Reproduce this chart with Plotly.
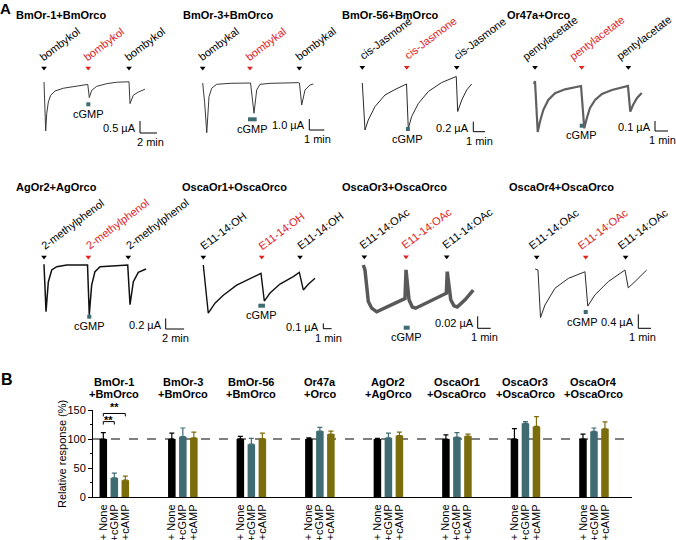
import plotly.graph_objects as go

W, H = 676, 540
RED = "#e0211d"
TEAL = "#3e6c72"
OLIVE = "#7b6c0c"
FONT = "Liberation Sans, Arial, Helvetica, sans-serif"

# ---------------- Panel A data (time in min, current in µA) ----------------
A_titles = ["BmOr-1+BmOrco", "BmOr-3+BmOrco", "BmOr-56+BmOrco", "Or47a+Orco",
            "AgOr2+AgOrco", "OscaOr1+OscaOrco", "OscaOr3+OscaOrco", "OscaOr4+OscaOrco"]
A_odors = ["bombykol", "bombykal", "cis-Jasmone", "pentylacetate",
           "2-methylphenol", "E11-14:OH", "E11-14:OAc", "E11-14:OAc"]
A_scale_uA = [0.5, 1.0, 0.2, 0.1, 0.2, 0.1, 0.02, 0.4]
A_scale_min = [2, 1, 1, 1, 2, 1, 1, 1]
A_stim_min = [[0, 5.2, 10.0], [0, 3.15, 6.44], [0, 3.8, 8.07], [0, 3.59, 7.18],
              [0, 4.82, 9.16], [0, 7.04, 11.65], [0, 3.21, 6.34], [0, 3.86, 7.0]]
A_cgmp_min = [[4.98, 5.45], [3.02, 3.6], [3.73, 4.07], [3.44, 3.75],
              [4.7, 5.14], [6.63, 7.43], [3.03, 3.49], [3.7, 4.02]]

t_bmor1 = [0, 0.2, 0.32, 0.51, 0.79, 1.29, 2.27, 3.85, 5.15, 5.33, 5.61, 6.2, 7.38, 8.55, 9.92, 10.0, 10.12, 10.51, 11.09, 11.88]
i_bmor1 = [0, -2.04, -1.32, -0.83, -0.55, -0.375, -0.26, -0.17, -0.10, -0.65, -0.35, -0.18, -0.07, -0.01, 0.03, 0.01, -0.9, -0.55, -0.42, -0.30]

t_bmor3 = [0, 0.13, 0.27, 0.42, 0.6, 0.93, 1.82, 3.04, 3.19, 3.42, 3.6, 3.82, 4.49, 6.37, 6.45, 6.6, 6.82, 7.15, 7.37]
i_bmor3 = [0, -1.8, -4.52, -1.25, -0.48, -0.12, -0.03, 0.03, 0, -2.75, -0.64, -0.12, -0.03, 0.03, 0, -2.0, -0.64, -0.18, -0.09]

t_bmor56 = [0, 0.23, 0.51, 1.09, 1.94, 2.79, 3.78, 3.93, 4.22, 4.79, 5.64, 6.79, 8.03, 8.15, 8.5, 8.92, 9.35]
i_bmor56 = [0, -0.94, -0.74, -0.47, -0.24, -0.13, -0.02, -0.91, -0.67, -0.41, -0.17, 0.01, 0.13, -0.57, -0.34, -0.14, -0.02]

t_or47a = [-0.08, 0, 0.21, 0.38, 0.64, 1.02, 1.54, 2.31, 3.54, 3.79, 3.99, 4.23, 4.62, 5.15, 5.92, 7.15, 7.33, 7.54, 7.85, 8.21]
i_or47a = [0, 0.03, -0.48, -0.377, -0.26, -0.16, -0.093, -0.053, -0.02, -0.443, -0.34, -0.24, -0.16, -0.10, -0.06, -0.02, -0.277, -0.21, -0.14, -0.09]

t_agor2 = [0, 0.22, 0.47, 0.84, 1.38, 2.47, 4.73, 4.92, 5.18, 5.54, 6.09, 9.1, 9.35, 9.71, 10.25, 11.09]
i_agor2 = [0.013, -0.88, -0.32, -0.094, -0.032, 0, 0, -0.94, -0.38, -0.126, -0.032, 0, -0.75, -0.315, -0.138, -0.075]

t_oscaor1 = [0, 0.6, 1.41, 2.41, 4.02, 5.63, 6.95, 7.35, 8.04, 9.24, 10.84, 11.57, 12.05, 12.65, 13.46]
i_oscaor1 = [0, -0.91, -0.72, -0.57, -0.38, -0.25, -0.157, -0.68, -0.53, -0.36, -0.22, -0.138, -0.47, -0.365, -0.25]

t_oscaor3 = [-0.08, 0.05, 0.31, 0.57, 0.95, 1.85, 2.62, 3.13, 3.21, 3.44, 3.69, 3.95, 4.92, 5.95, 6.31, 6.38, 6.65, 6.9, 7.15, 7.75, 8.38]
i_oscaor3 = [0, -0.008, -0.061, -0.072, -0.078, -0.068, -0.061, -0.056, -0.008, -0.058, -0.07, -0.072, -0.062, -0.051, -0.047, -0.011, -0.058, -0.068, -0.07, -0.058, -0.042]

t_oscaor4 = [-0.13, 0.1, 0.3, 0.65, 1.44, 2.49, 3.8, 4.02, 4.59, 5.64, 6.95, 7.21, 7.74, 8.66]
i_oscaor4 = [0.03, 0, -1.36, -1.0, -0.52, -0.24, -0.05, -1.03, -0.71, -0.33, 0, -0.51, -0.33, 0]

A_traces = [(t_bmor1, i_bmor1), (t_bmor3, i_bmor3), (t_bmor56, i_bmor56), (t_or47a, i_or47a),
            (t_agor2, i_agor2), (t_oscaor1, i_oscaor1), (t_oscaor3, i_oscaor3), (t_oscaor4, i_oscaor4)]

# ---------------- Panel B data ----------------
B_groups_l1 = ["BmOr-1", "BmOr-3", "BmOr-56", "Or47a", "AgOr2", "OscaOr1", "OscaOr3", "OscaOr4"]
B_groups_l2 = ["+BmOrco", "+BmOrco", "+BmOrco", "+Orco", "+AgOrco", "+OscaOrco", "+OscaOrco", "+OscaOrco"]
B_conditions = ["+ None", "+cGMP", "+cAMP"]
none_mean = [100, 100, 100, 100, 100, 100, 100, 100]
none_err = [11, 10, 4.5, 2, 1, 7, 18, 8.5]
cgmp_mean = [33, 104, 91, 113.6, 102, 103.4, 127, 113]
cgmp_err = [8, 15, 10, 6.4, 8, 7.6, 3, 6]
camp_mean = [29, 102, 100.5, 108.5, 106, 105, 121.6, 117.6]
camp_err = [7, 10, 9.5, 5, 6, 3.5, 17, 12]
B_yticks = [0, 50, 100, 150]

# ---------------- Panel A layout (pixel constants) ----------------
PL = [
    dict(x0=44, y0=82, sx=8.5, sy=24, arrow=68, cg=104.3, bar=(140, 133), title=(14, 15), box=(28, 50, 172, 150), col="#3a3a3a", w=1.0, cgx=0, fx=1.5, lx=-8),
    dict(x0=202.7, y0=83, sx=15, sy=11, arrow=68, cg=119.3, bar=(309.3, 130), title=(181, 15), box=(188, 50, 336, 150), col="#3a3a3a", w=1.0, cgx=0, fx=1, lx=-8),
    dict(x0=362.3, y0=83, sx=11.7, sy=50, arrow=67.3, cg=129, bar=(473.3, 131.7), title=(340, 15), box=(348, 50, 500, 150), col="#2a2a2a", w=1.0, cgx=0, fx=0, lx=-6),
    dict(x0=535, y0=84, sx=13, sy=100, arrow=67.3, cg=125.7, bar=(655, 131), title=(505, 15), box=(518, 50, 676, 150), col="#606060", w=2.2, cgx=0, fx=1, lx=-16),
    dict(x0=44, y0=265, sx=9.2, sy=53, arrow=257, cg=316.7, bar=(165.7, 329), title=(14, 186.7), box=(28, 240, 192, 342), col="#111111", w=1.5, cgx=0, fx=1, lx=-6),
    dict(x0=203.3, y0=265, sx=8.3, sy=53, arrow=257, cg=305.7, bar=(323.3, 328.7), title=(180, 186.7), box=(188, 240, 342, 342), col="#111111", w=1.4, cgx=0, fx=1, lx=-7),
    dict(x0=364.3, y0=265, sx=13, sy=600, arrow=256.7, cg=327.7, bar=(477.7, 328.3), title=(340, 186.7), box=(348, 240, 500, 342), col="#595959", w=3.5, cgx=0, fx=0, lx=-8),
    dict(x0=536.7, y0=270, sx=12.7, sy=35, arrow=257, cg=312, bar=(638.3, 328.3), title=(506.7, 186.7), box=(518, 240, 676, 342), col="#2a2a2a", w=1.0, cgx=-3, fx=-2, lx=-12),
]
LABEL_ANGLE = -37


def axid(n):
    return "" if n == 1 else str(n)


fig = go.Figure()
annotations = []
layout_axes = {}

for k in range(8):
    p = PL[k]
    n = k + 1
    xa, ya = "x" + axid(n), "y" + axid(n)
    L, T, R, B = p["box"]
    layout_axes["xaxis" + axid(n)] = dict(domain=[L / W, R / W], range=[(L - p["x0"]) / p["sx"], (R - p["x0"]) / p["sx"]],
                                          visible=False, anchor=ya, autorange=False)
    layout_axes["yaxis" + axid(n)] = dict(domain=[1 - B / H, 1 - T / H], range=[-(B - p["y0"]) / p["sy"], -(T - p["y0"]) / p["sy"]],
                                          visible=False, anchor=xa, autorange=False)

    t_of = lambda px, p=p: (px - p["x0"]) / p["sx"]
    i_of = lambda py, p=p: -(py - p["y0"]) / p["sy"]

    t, i = A_traces[k]
    fig.add_trace(go.Scatter(x=t, y=i, mode="lines", line=dict(color=p["col"], width=p["w"]),
                             xaxis=xa, yaxis=ya, cliponaxis=False, hoverinfo="skip"))

    # stimulus arrows
    ia = i_of(p["arrow"])
    stims = A_stim_min[k]
    cols = ["black", RED, "black"]
    fig.add_trace(go.Scatter(x=stims, y=[ia] * 3, mode="markers",
                             marker=dict(symbol="triangle-down", size=5, color=cols, line=dict(width=0)),
                             xaxis=xa, yaxis=ya, cliponaxis=False, hoverinfo="skip"))
    for s, c in zip(stims, cols):
        annotations.append(dict(x=s, y=ia, xref=xa, yref=ya, text=A_odors[k], showarrow=False,
                                textangle=LABEL_ANGLE, xanchor="left", yanchor="bottom", xshift=p["lx"], yshift=4,
                                borderpad=0, font=dict(size=11, color=c, family=FONT)))

    # cGMP application bar
    icg = i_of(p["cg"])
    fig.add_trace(go.Scatter(x=A_cgmp_min[k], y=[icg, icg], mode="lines", line=dict(color=TEAL, width=4),
                             xaxis=xa, yaxis=ya, cliponaxis=False, hoverinfo="skip"))
    annotations.append(dict(x=sum(A_cgmp_min[k]) / 2, y=icg, xref=xa, yref=ya, text="cGMP", showarrow=False,
                            xanchor="center", yanchor="middle", yshift=-9.5, xshift=p["cgx"],
                            font=dict(size=11, color="black", family=FONT)))

    # scale bar
    tb, ib = t_of(p["bar"][0]), i_of(p["bar"][1])
    su, sm = A_scale_uA[k], A_scale_min[k]
    fig.add_trace(go.Scatter(x=[tb, tb, tb + sm], y=[ib + su, ib, ib], mode="lines",
                             line=dict(color="black", width=1), xaxis=xa, yaxis=ya, cliponaxis=False,
                             hoverinfo="skip"))
    annotations.append(dict(x=tb, y=ib + su / 2, xref=xa, yref=ya, text=f"{su} µA", showarrow=False,
                            xanchor="right", yanchor="middle", xshift=-2, yshift=-1,
                            font=dict(size=11, color="black", family=FONT)))
    annotations.append(dict(x=tb + sm / 2, y=ib, xref=xa, yref=ya, text=f"{sm} min", showarrow=False,
                            xanchor="center", yanchor="top", yshift=-1, xshift=p["fx"],
                            font=dict(size=11, color="black", family=FONT)))

    # panel title
    annotations.append(dict(x=p["title"][0] / W, y=1 - p["title"][1] / H, xref="paper", yref="paper",
                            text=f"<b>{A_titles[k]}</b>", showarrow=False, xanchor="left", yanchor="middle",
                            font=dict(size=11, color="black", family=FONT)))

# ---------------- Panel B ----------------
OFF, BW = 0.1606, 0.11
offsets = [-OFF, 0.0, OFF]
series = [(none_mean, none_err, "black"), (cgmp_mean, cgmp_err, TEAL), (camp_mean, camp_err, OLIVE)]
for j, (m, e, c) in enumerate(series):
    xs = [g + offsets[j] for g in range(len(m))]
    fig.add_trace(go.Bar(x=xs, y=m, width=BW, marker=dict(color=c, line=dict(width=0)),
                         error_y=dict(type="data", array=e, arrayminus=[0] * len(e), symmetric=False,
                                      color=c, thickness=1.2, width=2.5),
                         xaxis="x9", yaxis="y9", hoverinfo="skip"))

tickvals, ticktext = [], []
for g in range(len(B_groups_l1)):
    for j in range(3):
        tickvals.append(g + offsets[j])
        ticktext.append(B_conditions[j])

g0 = 0
fig.add_trace(go.Scatter(x=[g0 + offsets[0], g0 + offsets[0], g0 + offsets[1], g0 + offsets[1]], y=[125, 130, 130, 125],
                         mode="lines", line=dict(color="black", width=1), xaxis="x9", yaxis="y9",
                         cliponaxis=False, hoverinfo="skip"))
fig.add_trace(go.Scatter(x=[g0 + offsets[0], g0 + offsets[0], g0 + offsets[2], g0 + offsets[2]], y=[139, 144, 144, 139],
                         mode="lines", line=dict(color="black", width=1), xaxis="x9", yaxis="y9",
                         cliponaxis=False, hoverinfo="skip"))
annotations.append(dict(x=g0 + (offsets[0] + offsets[1]) / 2, y=130, xref="x9", yref="y9", text="<b>**</b>",
                        showarrow=False, yanchor="middle", yshift=2, font=dict(size=11, family=FONT)))
annotations.append(dict(x=g0 + (offsets[0] + offsets[2]) / 2, y=144, xref="x9", yref="y9", text="<b>**</b>",
                        showarrow=False, yanchor="middle", yshift=6, font=dict(size=11, family=FONT)))

for g in range(len(B_groups_l1)):
    annotations.append(dict(x=g, y=1 - 382 / H, xref="x9", yref="paper", text=f"<b>{B_groups_l1[g]}</b>",
                            showarrow=False, xanchor="center", yanchor="middle",
                            font=dict(size=11, color="black", family=FONT)))
    annotations.append(dict(x=g, y=1 - 394 / H, xref="x9", yref="paper", text=f"<b>{B_groups_l2[g]}</b>",
                            showarrow=False, xanchor="center", yanchor="middle",
                            font=dict(size=11, color="black", family=FONT)))

annotations.append(dict(x=62 / W, y=1 - 454 / H, xref="paper", yref="paper", text="Relative response (%)",
                        textangle=-90, showarrow=False, xanchor="center", yanchor="middle",
                        font=dict(size=11, color="black", family=FONT)))
annotations.append(dict(x=5 / W, y=1 - 8 / H, xref="paper", yref="paper", text="<b>A</b>", showarrow=False,
                        xanchor="center", yanchor="middle", font=dict(size=15, color="black", family=FONT)))
annotations.append(dict(x=7 / W, y=1 - 379 / H, xref="paper", yref="paper", text="<b>B</b>", showarrow=False,
                        xanchor="center", yanchor="middle", font=dict(size=16, color="black", family=FONT)))

layout_axes["xaxis9"] = dict(domain=[93 / W, 632 / W], range=[-0.311, 7.555], anchor="y9", autorange=False,
                             tickvals=tickvals, ticktext=ticktext, tickangle=-90, ticks="",
                             ticklabelstandoff=2, automargin=False,
                             showline=True, linecolor="black", linewidth=1, showgrid=False, zeroline=False,
                             tickfont=dict(size=11, color="black", family=FONT))
layout_axes["yaxis9"] = dict(domain=[1 - 497 / H, 1 - 410 / H], range=[0, 150], anchor="x9", autorange=False,
                             tickvals=B_yticks, ticks="outside", ticklen=4, tickwidth=1, tickcolor="black",
                             minor=dict(tickvals=[25, 75, 125], ticks="outside", ticklen=2.5, tickcolor="black"),
                             showline=True, linecolor="black", linewidth=1, showgrid=False, zeroline=False,
                             automargin=False, tickfont=dict(size=11, color="black", family=FONT))

fig.update_layout(
    width=W, height=H, margin=dict(l=0, r=0, t=0, b=0, pad=0), autosize=False,
    paper_bgcolor="white", plot_bgcolor="rgba(0,0,0,0)",
    showlegend=False, barmode="overlay",
    font=dict(family=FONT, size=11, color="black"),
    annotations=annotations,
    shapes=[dict(type="line", xref="x9 domain", yref="y9", x0=0, x1=1, y0=100, y1=100,
                 line=dict(color="black", width=1, dash="dash"), layer="below")],
    **layout_axes,
)

fig.write_html("out.html", config={"displayModeBar": False, "staticPlot": True},
               post_script="document.body.style.margin='0';document.body.style.overflow='hidden';")
